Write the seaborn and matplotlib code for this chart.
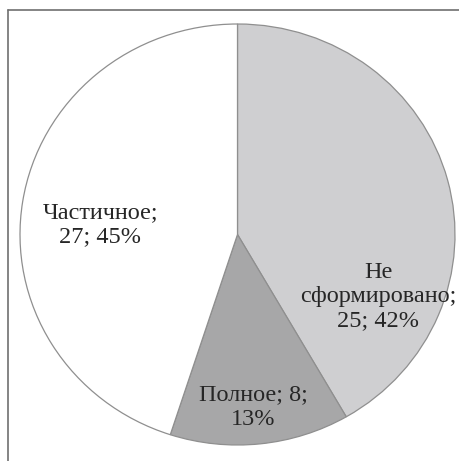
import matplotlib
matplotlib.use("Agg")
import matplotlib.pyplot as plt
from matplotlib.lines import Line2D
import seaborn as sns

# data
categories = ["Не сформировано", "Полное", "Частичное"]
counts = [25, 8, 27]
percents = [42, 13, 45]
colors = ["#cfcfd1", "#a7a7a8", "#ffffff"]

sns.set_theme(style="white")
plt.rcParams["font.family"] = ["Liberation Serif", "DejaVu Serif"]

fig = plt.figure(figsize=(4.59, 4.61), dpi=100)
ax = fig.add_axes([0.0, 0.0, 1.0, 1.0])

wedges, _ = ax.pie(
    counts,
    colors=colors,
    startangle=90,
    counterclock=False,
    radius=1.0,
    center=(0, 0),
    wedgeprops={"edgecolor": "#8f8f8f", "linewidth": 0.9},
)

# label placement (offsets in pie-radius units)
label_pos = [(0.648, -0.295), (0.074, -0.82), (-0.63, 0.048)]
labels = [
    "Не\nсформировано;\n25; 42%",
    "Полное; 8;\n13%",
    "Частичное;\n27; 45%",
]
for (x, y), txt in zip(label_pos, labels):
    ax.text(x, y, txt, ha="center", va="center", fontsize=17.5,
            color="#262626", linespacing=1.2)

# pie sits in pixel box approx x 20..455, y 24..445
ax.set_xlim(-1.0 - 20 / 217.5, 1.0 + 4 / 217.5)
ax.set_ylim(-1.0 - 16 / 210.5, 1.0 + 24 / 210.5)
ax.set_aspect("auto")
ax.axis("off")

# outer frame (only top and left visible)
fig.add_artist(Line2D([8 / 459, 1.0], [1 - 10 / 461, 1 - 10 / 461],
                      transform=fig.transFigure, color="#6f6f6f", linewidth=1.2))
fig.add_artist(Line2D([8 / 459, 8 / 459], [0.0, 1 - 10 / 461],
                      transform=fig.transFigure, color="#6f6f6f", linewidth=1.2))

fig.savefig("out.png", dpi=100, facecolor="white")
